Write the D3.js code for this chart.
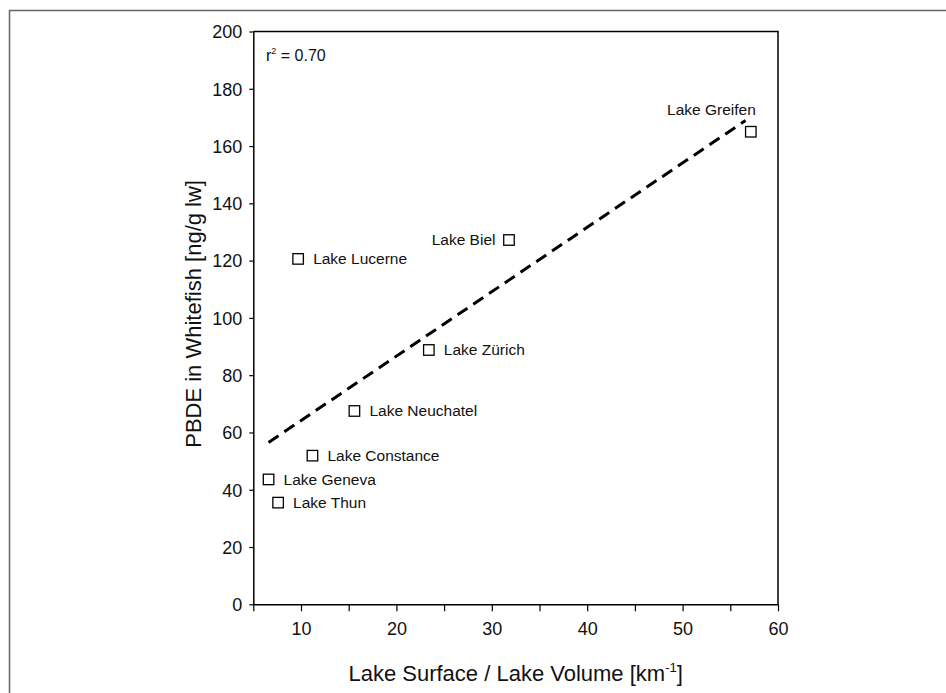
<!DOCTYPE html>
<html>
<head>
<meta charset="utf-8">
<script src="https://cdn.jsdelivr.net/npm/d3@7"></script>
<style>
  html, body { margin: 0; padding: 0; background: #fff; }
  svg { display: block; }
  text { font-family: "Liberation Sans", Arial, Helvetica, sans-serif; fill: #111; }
</style>
</head>
<body>
<svg id="chart" width="946" height="693"></svg>
<script>
// ---- data ----
const lakes = ["Lake Greifen", "Lake Biel", "Lake Lucerne", "Lake Zürich", "Lake Neuchatel", "Lake Constance", "Lake Geneva", "Lake Thun"];
const surfaceToVolume = [57.15, 31.8, 9.7, 23.4, 15.6, 11.2, 6.6, 7.6];
const pbde = [165.0, 127.2, 120.6, 88.8, 67.5, 51.9, 43.6, 35.5];
const labelSide = ["above", "left", "right", "right", "right", "right", "right", "right"];
const fitRange = [6.6, 56.6];
const xTicks = [5, 10, 15, 20, 25, 30, 35, 40, 45, 50, 55, 60];
const xTickLabels = [10, 20, 30, 40, 50, 60];
const yTicks = [0, 20, 40, 60, 80, 100, 120, 140, 160, 180, 200];
const r2Label = "0.70";

(function () {
// ---- layout ----
const svg = d3.select("#chart");
const pLeft = 253.3, pRight = 778, pTop = 31.5, pBottom = 604.3;
const x = d3.scaleLinear().domain([5, 60]).range([pLeft, pRight]);
const y = d3.scaleLinear().domain([0, 200]).range([pBottom, pTop]);

// outer frame (cropped at right/bottom)
svg.append("rect")
  .attr("x", 9.5).attr("y", 10.5)
  .attr("width", 1000).attr("height", 1000)
  .attr("fill", "none").attr("stroke", "#666").attr("stroke-width", 1.5);

// plot frame top & right
svg.append("path")
  .attr("d", `M${pLeft},${pTop}H${pRight}V${pBottom}`)
  .attr("fill", "none").attr("stroke", "#000").attr("stroke-width", 1.5);

// x axis
const xAxis = svg.append("g").attr("transform", `translate(0,${pBottom})`)
  .call(d3.axisBottom(x).tickValues(xTicks).tickSize(7).tickSizeOuter(0)
    .tickFormat(d => xTickLabels.includes(d) ? d : ""));
xAxis.select(".domain").attr("stroke", "#000").attr("stroke-width", 1.5);
xAxis.selectAll(".tick line").attr("stroke", "#000").attr("stroke-width", 1.2);
xAxis.selectAll(".tick text").attr("font-size", 18).attr("dy", 0).attr("y", 31)
  .style("font-family", '"Liberation Sans", Arial, sans-serif').attr("fill", "#111");

// y axis
const yAxis = svg.append("g").attr("transform", `translate(${pLeft},0)`)
  .call(d3.axisLeft(y).tickValues(yTicks).tickSize(4).tickSizeOuter(0));
yAxis.select(".domain").attr("stroke", "#000").attr("stroke-width", 1.5);
yAxis.selectAll(".tick line").attr("stroke", "#000").attr("stroke-width", 1.2);
yAxis.selectAll(".tick text").attr("font-size", 18).attr("x", -11).attr("dy", "0.35em")
  .style("font-family", '"Liberation Sans", Arial, sans-serif').attr("fill", "#111");

// regression line (least squares from data)
const mx = d3.mean(surfaceToVolume), my = d3.mean(pbde);
let sxy = 0, sxx = 0;
surfaceToVolume.forEach((v, i) => { sxy += (v - mx) * (pbde[i] - my); sxx += (v - mx) * (v - mx); });
const slope = sxy / sxx, intercept = my - slope * mx;
svg.append("path")
  .datum(fitRange)
  .attr("d", d3.line().x(d => x(d)).y(d => y(intercept + slope * d)))
  .attr("fill", "none").attr("stroke", "#000").attr("stroke-width", 3)
  .attr("stroke-dasharray", "12,7");

// points
const pts = lakes.map((name, i) => ({ name, xv: surfaceToVolume[i], yv: pbde[i], side: labelSide[i] }));
const s = 10.5;
svg.append("g").selectAll("rect").data(pts).join("rect")
  .attr("x", d => x(d.xv) - s / 2).attr("y", d => y(d.yv) - s / 2)
  .attr("width", s).attr("height", s)
  .attr("fill", "#fff").attr("stroke", "#000").attr("stroke-width", 1.3);

svg.append("g").selectAll("text").data(pts).join("text")
  .attr("font-size", 15.5)
  .attr("text-anchor", d => d.side === "right" ? "start" : "end")
  .attr("x", d => d.side === "right" ? x(d.xv) + 15 : d.side === "left" ? x(d.xv) - 13.5 : x(d.xv) + 5)
  .attr("y", d => d.side === "above" ? y(d.yv) - 16.5 : y(d.yv) + 5.5)
  .text(d => d.name);

// r² annotation
const r2 = svg.append("text").attr("x", 266).attr("y", 60.5).attr("font-size", 16);
r2.append("tspan").text("r");
r2.append("tspan").attr("font-size", 9).attr("dy", -7).text("2");
r2.append("tspan").attr("dy", 7).text(" = " + r2Label);

// axis titles
const xt = svg.append("text").attr("x", (pLeft + pRight) / 2).attr("y", 680.5)
  .attr("text-anchor", "middle").attr("font-size", 22);
xt.append("tspan").text("Lake Surface / Lake Volume [km");
xt.append("tspan").attr("font-size", 13).attr("dy", -9).text("-1");
xt.append("tspan").attr("dy", 9).text("]");

svg.append("text")
  .attr("transform", `translate(201,${(pTop + pBottom) / 2 - 4}) rotate(-90)`)
  .attr("text-anchor", "middle").attr("font-size", 22)
  .text("PBDE in Whitefish [ng/g lw]");
})();
</script>
</body>
</html>
